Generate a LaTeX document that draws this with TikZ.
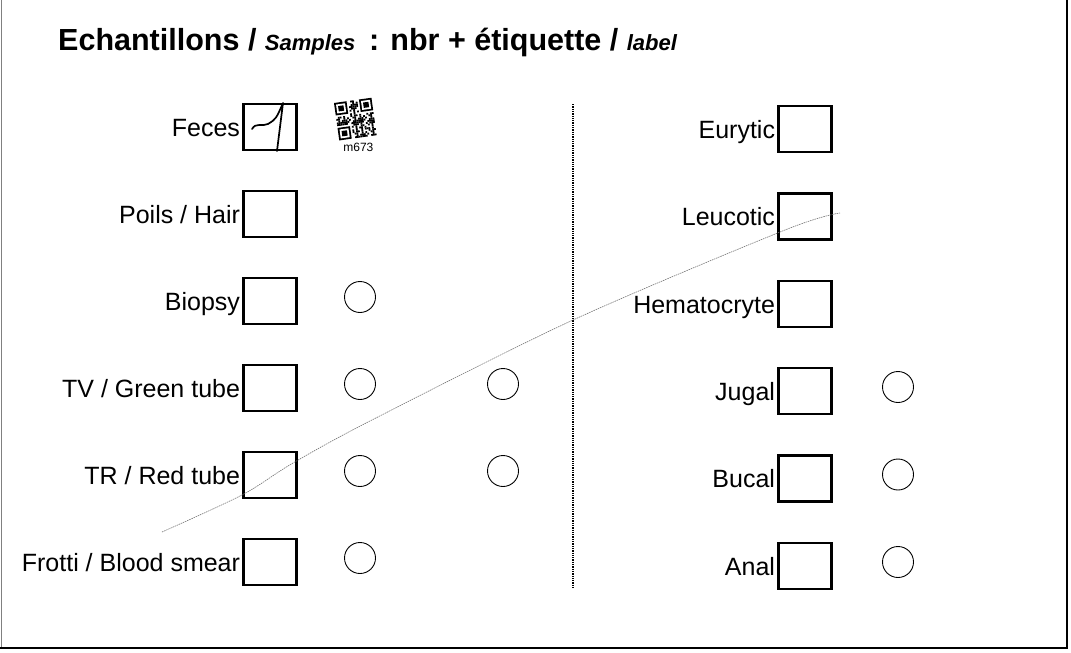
\documentclass[tikz,border=0pt]{standalone}
\usepackage{fontspec}
\setmainfont{Liberation Sans}
\usetikzlibrary{positioning}

\tikzset{
  tickbox/.style={draw, line width=2.6pt, minimum width=53pt, minimum height=46pt, inner sep=0pt},
  lbl/.style={font=\fontsize{25}{28}\selectfont, text height=18pt, text depth=0pt, inner sep=1pt},
  ring/.style={draw, circle, line width=0.9pt, minimum size=31pt, inner sep=0pt},
  pen/.style={line width=1.7pt, line cap=round, line join=round},
}

\begin{document}
\begin{tikzpicture}[x=1pt, y=-1pt]
\useasboundingbox (0,0) rectangle (1071,653);

% frame of the form
\draw[gray, line width=0.8pt] (1.5,0) -- (1.5,648);
\draw[line width=1.2pt] (1067,0) -- (1067,648) -- (0,648);

% title
\node[anchor=base west, inner sep=0pt, font=\bfseries\fontsize{30.5}{34}\selectfont] (title) at (58,50)
  {Echantillons / {\itshape\fontsize{22}{25}\selectfont Samples} \,: nbr + étiquette / {\itshape\fontsize{22}{25}\selectfont label}};

% separator
\draw[densely dotted, line width=1.3pt] (573,104) -- (573,589);

% left column
\node[tickbox] (feces) at (270,127) {};
\node[tickbox] (hair) at (270,214) {};
\node[tickbox] (biopsy) at (270,301) {};
\node[tickbox] (green) at (270,388) {};
\node[tickbox] (red) at (270,475) {};
\node[tickbox] (smear) at (270,562) {};
\node[lbl, left=1pt of feces] (fecesl) {Feces};
\node[lbl, left=1pt of hair] (hairl) {Poils / Hair};
\node[lbl, left=1pt of biopsy] (biopsyl) {Biopsy};
\node[lbl, left=1pt of green] (greenl) {TV / Green tube};
\node[lbl, left=1pt of red] (redl) {TR / Red tube};
\node[lbl, left=1pt of smear] (smearl) {Frotti / Blood smear};
\node[ring] (biopsya) at (360,297) {};
\node[ring] (greena) at (360,384) {};
\node[ring] (greenb) at (503,384) {};
\node[ring] (reda) at (360,471) {};
\node[ring] (redb) at (503,471) {};
\node[ring] (smeara) at (360,558) {};

% right column
\node[tickbox] (euryt) at (805,129) {};
\node[tickbox] (leuco) at (805,216.5) {};
\node[tickbox] (hemat) at (805,304) {};
\node[tickbox] (jugal) at (805,391) {};
\node[tickbox] (bucal) at (805,478.5) {};
\node[tickbox] (anal) at (805,566) {};
\node[lbl, left=1pt of euryt] (eurytl) {Eurytic};
\node[lbl, left=1pt of leuco] (leucol) {Leucotic};
\node[lbl, left=1pt of hemat] (hematl) {Hematocryte};
\node[lbl, left=1pt of jugal] (jugall) {Jugal};
\node[lbl, left=1pt of bucal] (bucall) {Bucal};
\node[lbl, left=1pt of anal] (anall) {Anal};
\node[ring] (jugala) at (898,387) {};
\node[ring] (bucala) at (898,474.5) {};
\node[ring] (anala) at (898,562) {};

% handwritten count
\draw[pen] (252,129) .. controls (256,122) and (262,127) .. (268,124)
  .. controls (276,119) .. (283,103) -- (277,151);

% sticker code
\begin{scope}[shift={(334,103)}, rotate=8]
  \foreach \a/\b in {0/0,14/0,0/14} {
    \fill (\a*1.8,\b*1.8) rectangle ++(12.6,12.6);
    \fill[white] (\a*1.8+1.8,\b*1.8+1.8) rectangle ++(9,9);
    \fill (\a*1.8+3.6,\b*1.8+3.6) rectangle ++(5.4,5.4);
  }
  \foreach \i in {0,...,20} {
    \foreach \j in {0,...,20} {
      \pgfmathtruncatemacro\qrbit{mod(\i*\i*7+\j*\j*3+\i*\j*5+\i*11+\j*13,9)<4 ? 1 : 0}
      \pgfmathtruncatemacro\qrzone{(\i<8 && \j<8) || (\i>12 && \j<8) || (\i<8 && \j>12) ? 1 : 0}
      \ifnum\qrbit=1 \ifnum\qrzone=0
        \fill (\i*1.8,\j*1.8) rectangle ++(1.8,1.8);
      \fi\fi
    }
  }
  \node[font=\fontsize{12}{13}\selectfont, inner sep=0pt] (qrtag) at (18,47) {m673};
\end{scope}

% pen stroke across the form
\coordinate (stroke1) at (162,532);
\coordinate (stroke2) at (242,495);
\coordinate (stroke3) at (293,463);
\coordinate (stroke4) at (370,421);
\coordinate (stroke5) at (573,320);
\coordinate (stroke6) at (785,230);
\coordinate (stroke7) at (840,213);
\draw[black!55, line width=0.6pt, dash pattern=on 1.5pt off 0.8pt]
  plot[smooth, tension=0.5] coordinates {(stroke1) (stroke2) (stroke3) (stroke4) (stroke5) (stroke6) (stroke7)};
\end{tikzpicture}
\end{document}
